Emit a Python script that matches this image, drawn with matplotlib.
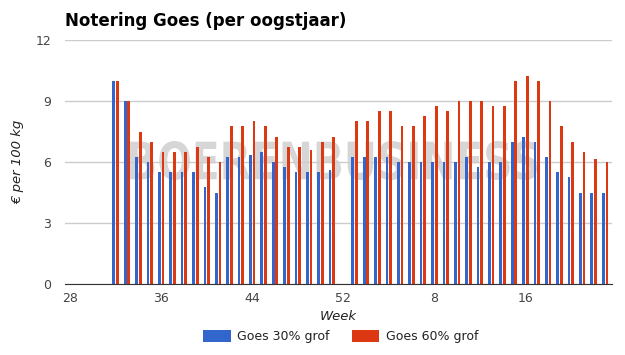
import matplotlib
matplotlib.use('Agg')
import matplotlib.pyplot as plt
import numpy as np
from matplotlib.textpath import TextPath
from matplotlib.patches import PathPatch
from matplotlib.font_manager import FontProperties
from matplotlib.transforms import Affine2D

weeks = list(range(28, 53)) + list(range(1, 24))
nan = np.nan

goes30 = [nan, nan, nan, nan,
          10, 9, 6.25, 6, 5.5, 5.5, 5.5, 5.5, 4.75, 4.5,
          6.25, 6.25, 6.35, 6.5, 6, 5.75, 5.5, 5.5, 5.5, 5.6,
          nan,
          6.25, 6.25, 6.25, 6.25, 6, 6, 6, 6, 6, 6, 6.25, 5.75, 6, 6,
          7, 7.25, 7, 6.25, 5.5, 5.25, 4.5, 4.5, 4.5]
goes60 = [nan, nan, nan, nan,
          10, 9, 7.5, 7, 6.5, 6.5, 6.5, 6.75, 6.25, 6,
          7.75, 7.75, 8, 7.75, 7.25, 6.75, 6.75, 6.6, 7, 7.25,
          nan,
          8, 8, 8.5, 8.5, 7.75, 7.75, 8.25, 8.75, 8.5, 9, 9, 9, 8.75, 8.75,
          10, 10.25, 10, 9, 7.75, 7, 6.5, 6.15, 6]
series_names = ['Goes 30% grof', 'Goes 60% grof']
colors = ['#3366cc', '#dc3912']

x = np.arange(len(weeks))
barWidth = 0.24

fig = plt.figure(figsize=(6.25, 3.55), dpi=100)
ax = fig.add_axes([0.104, 0.2, 0.875, 0.687])

# watermark behind everything, squeezed to the logo's box (in figure fractions)
tp = TextPath((0, 0), 'BOERENBUSINESS', size=1,
              prop=FontProperties(family='DejaVu Sans', weight='bold'))
bb = tp.get_extents()
wmW, wmH = 407 / 625, 39 / 355
wmX, wmY = 333.5 / 625, 194.5 / 355
sx, sy = wmW / bb.width, wmH / bb.height
tr = Affine2D().translate(-(bb.x0 + bb.width / 2), -(bb.y0 + bb.height / 2)).scale(sx, sy).translate(wmX, wmY)
wm = PathPatch(tp, transform=tr + fig.transFigure, facecolor='#d6d6d6', edgecolor='none',
               zorder=0, clip_on=False)
ax.add_patch(wm)

bars = []
bars.append(ax.bar(x - 0.16, goes30, barWidth, color=colors[0], zorder=3))
bars.append(ax.bar(x + 0.16, goes60, barWidth, color=colors[1], zorder=3))

ax.set_xlim(-0.45, len(weeks) - 0.4)
ax.set_ylim(0, 12)
ax.set_yticks([0, 3, 6, 9, 12])
ax.set_xticks(x[::8])
ax.set_xticklabels([str(w) for w in weeks[::8]])
ax.yaxis.grid(True, color='#cccccc', linewidth=1, zorder=1)
ax.set_axisbelow(False)
for s in ['top', 'right', 'left']:
    ax.spines[s].set_visible(False)
ax.spines['bottom'].set_color('#333333')
ax.spines['bottom'].set_zorder(4)
ax.tick_params(axis='both', length=0, labelsize=9, colors='#444444')
ax.tick_params(axis='y', pad=10)
ax.tick_params(axis='x', pad=6)

ax.set_ylabel('€ per 100 kg', fontstyle='italic', fontsize=9.5, color='#222222', labelpad=8)
ax.set_xlabel('Week', fontstyle='italic', fontsize=9.5, color='#222222', labelpad=3)

fig.text(0.104, 0.94, 'Notering Goes (per oogstjaar)', fontsize=12, fontweight='bold',
         color='black', ha='left', va='center')

fig.legend([b[0] for b in bars], series_names, loc='center', bbox_to_anchor=(0.545, 0.052),
           ncol=2, frameon=False, fontsize=9, handlelength=2.2, handleheight=1.1,
           columnspacing=1.8, handletextpad=0.5, labelcolor='#222222')

fig.savefig('out.png', dpi=100)
